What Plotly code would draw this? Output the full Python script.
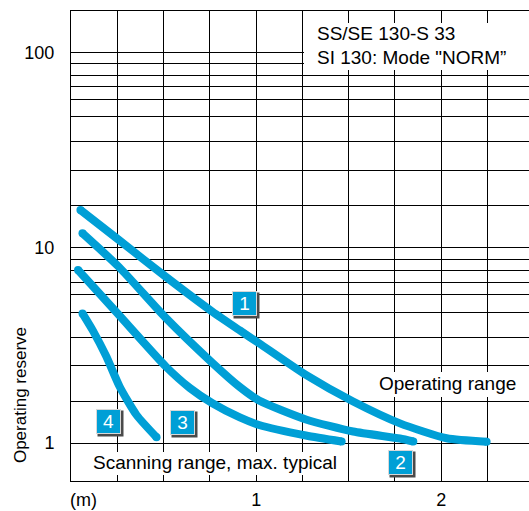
import math
import plotly.graph_objects as go

# ---- data ----
c1_x = [0.051, 0.259, 0.512, 0.764, 0.912, 1.016, 1.269, 1.524, 1.777, 2.029, 2.245]
c1_y = [15.6, 10.95, 7.10, 4.70, 3.77, 3.24, 2.23, 1.63, 1.26, 1.057, 1.015]

c2_x = [0.062, 0.259, 0.512, 0.764, 0.912, 1.016, 1.269, 1.524, 1.777, 1.849]
c2_y = [11.85, 7.96, 4.37, 2.57, 1.935, 1.65, 1.32, 1.145, 1.054, 1.018]

c3_x = [0.038, 0.259, 0.512, 0.642, 0.764, 0.912, 1.016, 1.269, 1.462]
c3_y = [7.69, 4.52, 2.465, 1.913, 1.597, 1.351, 1.236, 1.092, 1.018]

c4_x = [0.062, 0.119, 0.191, 0.263, 0.354, 0.462]
c4_y = [4.61, 3.75, 2.77, 1.94, 1.391, 1.07]

curve_labels = ["1", "2", "3", "4"]
label_x = [0.936, 1.778, 0.604, 0.204]
label_y = [5.21, 0.79, 1.28, 1.285]

y_tickvals = [1, 10, 100]
y_ticktext = ["1", "10", "100"]
grid_fracs = [1.64, 2.48, 3.48, 4.68, 5.75, 6.66, 7.66, 8.73]
x_tickvals = [1, 2]
x_ticktext = ["1", "2"]

BLUE = "#009fd6"
FONT = "Liberation Sans, Arial, sans-serif"

fig = go.Figure()
for xs, ys in [(c1_x, c1_y), (c2_x, c2_y), (c3_x, c3_y), (c4_x, c4_y)]:
    fig.add_trace(go.Scatter(
        x=xs, y=ys, mode="lines",
        line=dict(color=BLUE, width=8, shape="spline", smoothing=0.6),
        hoverinfo="skip", showlegend=False))
    fig.add_trace(go.Scatter(
        x=[xs[0], xs[-1]], y=[ys[0], ys[-1]], mode="markers",
        marker=dict(color=BLUE, size=8, line=dict(width=0)),
        hoverinfo="skip", showlegend=False))

minor_y = [f * d for d in (1, 10) for f in grid_fracs]

fig.update_xaxes(
    range=[0, 2.474], tickvals=x_tickvals, ticktext=x_ticktext,
    showgrid=True, gridcolor="black", gridwidth=1,
    minor=dict(dtick=0.25, tick0=0, showgrid=True, gridcolor="black", gridwidth=1),
    showline=True, mirror=True, linecolor="black", linewidth=1,
    ticks="", ticklabelstandoff=2, zeroline=False, automargin=False,
    tickfont=dict(family=FONT, size=18, color="black"))
fig.update_yaxes(
    type="log", range=[-0.1946, 2.212],
    tickvals=y_tickvals, ticktext=y_ticktext,
    showgrid=True, gridcolor="black", gridwidth=1,
    minor=dict(tickmode="array", tickvals=minor_y, showgrid=True,
               gridcolor="black", gridwidth=1),
    showline=True, mirror=False, linecolor="black", linewidth=1,
    ticks="", ticklabelstandoff=12, zeroline=False, automargin=False,
    tickfont=dict(family=FONT, size=18, color="black"))

# white text backgrounds: (left, top, width px, height px)
for x0, y1, w, h in [(0.509, 0.974, 225, 47),
                     (0.659, 0.232, 156, 25),
                     (0.031, 0.0617, 261, 23)]:
    fig.add_annotation(text=" ", xref="paper", yref="paper", x=x0, y=y1,
                       xanchor="left", yanchor="top", showarrow=False,
                       width=w, height=h, bgcolor="white", borderpad=0,
                       borderwidth=0)

texts = [
    ("SS/SE 130-S 33", 0.533, 0.953),
    ("SI 130: Mode \"NORM\u201d", 0.533, 0.900),
    ("Operating range", 0.668, 0.2085),
    ("Scanning range, max. typical", 0.0437, 0.0383),
]
for t, x, y in texts:
    fig.add_annotation(text=t, xref="paper", yref="paper", x=x, y=y,
                       xanchor="left", yanchor="middle", showarrow=False,
                       font=dict(family=FONT, size=19, color="black"))

fig.add_annotation(text="(m)", xref="paper", yref="paper", x=-0.0066, y=-0.0404,
                   xanchor="left", yanchor="middle", showarrow=False,
                   font=dict(family=FONT, size=18, color="black"))
fig.add_annotation(text="Operating reserve", xref="paper", yref="paper",
                   x=-0.109, y=0.183, textangle=-90, xanchor="center", yanchor="middle",
                   showarrow=False, font=dict(family=FONT, size=17, color="black"))

# numbered curve labels with shadow
for lab, lx, ly in zip(curve_labels, label_x, label_y):
    fig.add_annotation(text=" ", x=lx, y=math.log10(ly), xref="x", yref="y",
                       showarrow=False, width=25, height=25, bgcolor="#4a4a4a",
                       xshift=2, yshift=-2, borderpad=0)
    fig.add_annotation(text=lab, x=lx, y=math.log10(ly), xref="x", yref="y",
                       showarrow=False, width=23, height=23, bgcolor=BLUE,
                       bordercolor="#d8d8d8", borderwidth=1, borderpad=0,
                       font=dict(family=FONT, size=19, color="white"))

fig.update_layout(
    width=529, height=511,
    margin=dict(l=71, r=0, t=11, b=30, autoexpand=False),
    paper_bgcolor="white", plot_bgcolor="white",
    showlegend=False)

fig.write_html(
    "out.html",
    config={"displayModeBar": False, "staticPlot": True},
    post_script="document.body.style.margin='0';document.body.style.padding='0';"
                "document.body.style.overflow='hidden';"
                "document.documentElement.style.overflow='hidden';")
